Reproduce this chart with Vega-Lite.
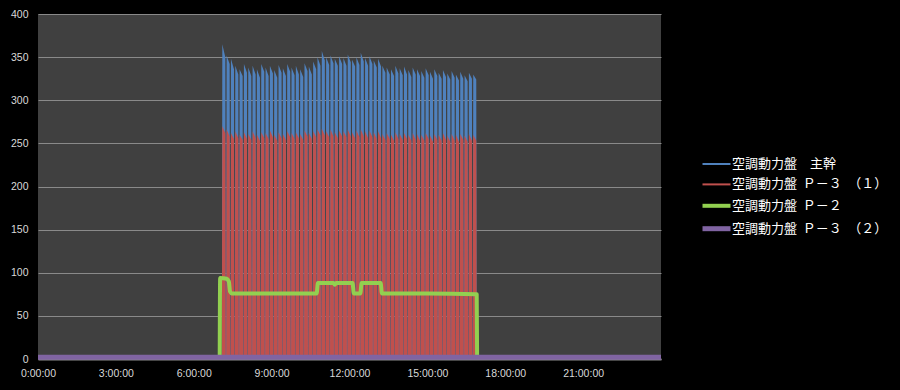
{
  "$schema": "https://vega.github.io/schema/vega-lite/v6.json",
  "width": 623,
  "height": 345,
  "autosize": {"type": "none"},
  "padding": {"left": 38, "top": 14, "right": 239, "bottom": 31},
  "background": "#000000",
  "config": {
    "view": {"fill": "#404040", "stroke": null},
    "font": "Liberation Sans",
    "axis": {"labelColor": "#d9d9d9", "labelFontSize": 10.5, "labelFont": "Liberation Sans", "ticks": false, "labelFlush": false, "title": null}
  },
  "datasets": {
    "ab": [
      {"m":425,"a":0,"b":0},{"m":426,"a":365,"b":270},{"m":433,"a":350,"b":262},{"m":434,"a":0,"b":0},
      {"m":435,"a":0,"b":0},{"m":436,"a":352,"b":266},{"m":443,"a":342,"b":258},{"m":444,"a":0,"b":0},
      {"m":445,"a":0,"b":0},{"m":446,"a":348,"b":262},{"m":453,"a":336,"b":255},{"m":454,"a":0,"b":0},
      {"m":455,"a":0,"b":0},{"m":456,"a":340,"b":264},{"m":463,"a":330,"b":256},{"m":464,"a":0,"b":0},
      {"m":465,"a":0,"b":0},{"m":466,"a":336,"b":260},{"m":473,"a":328,"b":254},{"m":474,"a":0,"b":0},
      {"m":475,"a":0,"b":0},{"m":476,"a":342,"b":263},{"m":483,"a":332,"b":255},{"m":484,"a":0,"b":0},
      {"m":485,"a":0,"b":0},{"m":486,"a":338,"b":261},{"m":493,"a":328,"b":254},{"m":494,"a":0,"b":0},
      {"m":495,"a":0,"b":0},{"m":496,"a":340,"b":264},{"m":503,"a":330,"b":256},{"m":504,"a":0,"b":0},
      {"m":505,"a":0,"b":0},{"m":506,"a":336,"b":260},{"m":513,"a":326,"b":253},{"m":514,"a":0,"b":0},
      {"m":515,"a":0,"b":0},{"m":516,"a":342,"b":263},{"m":523,"a":333,"b":256},{"m":524,"a":0,"b":0},
      {"m":525,"a":0,"b":0},{"m":526,"a":338,"b":262},{"m":533,"a":328,"b":255},{"m":534,"a":0,"b":0},
      {"m":535,"a":0,"b":0},{"m":536,"a":340,"b":265},{"m":543,"a":331,"b":257},{"m":544,"a":0,"b":0},
      {"m":545,"a":0,"b":0},{"m":546,"a":335,"b":260},{"m":553,"a":326,"b":253},{"m":554,"a":0,"b":0},
      {"m":555,"a":0,"b":0},{"m":556,"a":341,"b":263},{"m":563,"a":332,"b":256},{"m":564,"a":0,"b":0},
      {"m":565,"a":0,"b":0},{"m":566,"a":337,"b":261},{"m":573,"a":328,"b":254},{"m":574,"a":0,"b":0},
      {"m":575,"a":0,"b":0},{"m":576,"a":342,"b":264},{"m":583,"a":333,"b":257},{"m":584,"a":0,"b":0},
      {"m":585,"a":0,"b":0},{"m":586,"a":338,"b":262},{"m":593,"a":329,"b":255},{"m":594,"a":0,"b":0},
      {"m":595,"a":0,"b":0},{"m":596,"a":340,"b":263},{"m":603,"a":330,"b":256},{"m":604,"a":0,"b":0},
      {"m":605,"a":0,"b":0},{"m":606,"a":336,"b":261},{"m":613,"a":327,"b":254},{"m":614,"a":0,"b":0},
      {"m":615,"a":0,"b":0},{"m":616,"a":343,"b":265},{"m":623,"a":334,"b":258},{"m":624,"a":0,"b":0},
      {"m":625,"a":0,"b":0},{"m":626,"a":339,"b":262},{"m":633,"a":330,"b":255},{"m":634,"a":0,"b":0},
      {"m":635,"a":0,"b":0},{"m":636,"a":345,"b":264},{"m":643,"a":336,"b":257},{"m":644,"a":0,"b":0},
      {"m":645,"a":0,"b":0},{"m":646,"a":350,"b":266},{"m":653,"a":340,"b":259},{"m":654,"a":0,"b":0},
      {"m":655,"a":0,"b":0},{"m":656,"a":357,"b":267},{"m":663,"a":346,"b":259},{"m":664,"a":0,"b":0},
      {"m":665,"a":0,"b":0},{"m":666,"a":350,"b":264},{"m":673,"a":341,"b":257},{"m":674,"a":0,"b":0},
      {"m":675,"a":0,"b":0},{"m":676,"a":352,"b":266},{"m":683,"a":343,"b":258},{"m":684,"a":0,"b":0},
      {"m":685,"a":0,"b":0},{"m":686,"a":348,"b":263},{"m":693,"a":340,"b":256},{"m":694,"a":0,"b":0},
      {"m":695,"a":0,"b":0},{"m":696,"a":351,"b":265},{"m":703,"a":342,"b":258},{"m":704,"a":0,"b":0},
      {"m":705,"a":0,"b":0},{"m":706,"a":349,"b":264},{"m":713,"a":340,"b":257},{"m":714,"a":0,"b":0},
      {"m":715,"a":0,"b":0},{"m":716,"a":353,"b":266},{"m":723,"a":344,"b":258},{"m":724,"a":0,"b":0},
      {"m":725,"a":0,"b":0},{"m":726,"a":347,"b":263},{"m":733,"a":339,"b":256},{"m":734,"a":0,"b":0},
      {"m":735,"a":0,"b":0},{"m":736,"a":350,"b":265},{"m":743,"a":341,"b":257},{"m":744,"a":0,"b":0},
      {"m":745,"a":0,"b":0},{"m":746,"a":355,"b":266},{"m":753,"a":345,"b":258},{"m":754,"a":0,"b":0},
      {"m":755,"a":0,"b":0},{"m":756,"a":349,"b":264},{"m":763,"a":340,"b":256},{"m":764,"a":0,"b":0},
      {"m":765,"a":0,"b":0},{"m":766,"a":351,"b":265},{"m":773,"a":342,"b":257},{"m":774,"a":0,"b":0},
      {"m":775,"a":0,"b":0},{"m":776,"a":346,"b":263},{"m":783,"a":338,"b":255},{"m":784,"a":0,"b":0},
      {"m":785,"a":0,"b":0},{"m":786,"a":348,"b":264},{"m":793,"a":339,"b":256},{"m":794,"a":0,"b":0},
      {"m":795,"a":0,"b":0},{"m":796,"a":340,"b":261},{"m":803,"a":332,"b":254},{"m":804,"a":0,"b":0},
      {"m":805,"a":0,"b":0},{"m":806,"a":338,"b":262},{"m":813,"a":330,"b":255},{"m":814,"a":0,"b":0},
      {"m":815,"a":0,"b":0},{"m":816,"a":336,"b":260},{"m":823,"a":328,"b":253},{"m":824,"a":0,"b":0},
      {"m":825,"a":0,"b":0},{"m":826,"a":340,"b":263},{"m":833,"a":331,"b":255},{"m":834,"a":0,"b":0},
      {"m":835,"a":0,"b":0},{"m":836,"a":337,"b":261},{"m":843,"a":329,"b":254},{"m":844,"a":0,"b":0},
      {"m":845,"a":0,"b":0},{"m":846,"a":339,"b":262},{"m":853,"a":330,"b":255},{"m":854,"a":0,"b":0},
      {"m":855,"a":0,"b":0},{"m":856,"a":335,"b":260},{"m":863,"a":327,"b":253},{"m":864,"a":0,"b":0},
      {"m":865,"a":0,"b":0},{"m":866,"a":338,"b":262},{"m":873,"a":330,"b":254},{"m":874,"a":0,"b":0},
      {"m":875,"a":0,"b":0},{"m":876,"a":336,"b":261},{"m":883,"a":328,"b":253},{"m":884,"a":0,"b":0},
      {"m":885,"a":0,"b":0},{"m":886,"a":334,"b":260},{"m":893,"a":326,"b":253},{"m":894,"a":0,"b":0},
      {"m":895,"a":0,"b":0},{"m":896,"a":337,"b":262},{"m":903,"a":329,"b":255},{"m":904,"a":0,"b":0},
      {"m":905,"a":0,"b":0},{"m":906,"a":333,"b":259},{"m":913,"a":325,"b":252},{"m":914,"a":0,"b":0},
      {"m":915,"a":0,"b":0},{"m":916,"a":336,"b":261},{"m":923,"a":328,"b":254},{"m":924,"a":0,"b":0},
      {"m":925,"a":0,"b":0},{"m":926,"a":332,"b":260},{"m":933,"a":325,"b":253},{"m":934,"a":0,"b":0},
      {"m":935,"a":0,"b":0},{"m":936,"a":335,"b":262},{"m":943,"a":327,"b":254},{"m":944,"a":0,"b":0},
      {"m":945,"a":0,"b":0},{"m":946,"a":331,"b":259},{"m":953,"a":324,"b":252},{"m":954,"a":0,"b":0},
      {"m":955,"a":0,"b":0},{"m":956,"a":334,"b":261},{"m":963,"a":326,"b":253},{"m":964,"a":0,"b":0},
      {"m":965,"a":0,"b":0},{"m":966,"a":330,"b":260},{"m":973,"a":323,"b":252},{"m":974,"a":0,"b":0},
      {"m":975,"a":0,"b":0},{"m":976,"a":333,"b":261},{"m":983,"a":325,"b":254},{"m":984,"a":0,"b":0},
      {"m":985,"a":0,"b":0},{"m":986,"a":329,"b":259},{"m":993,"a":322,"b":252},{"m":994,"a":0,"b":0},
      {"m":995,"a":0,"b":0},{"m":996,"a":332,"b":261},{"m":1003,"a":325,"b":253},{"m":1004,"a":0,"b":0},
      {"m":1005,"a":0,"b":0},{"m":1006,"a":330,"b":260},{"m":1013,"a":324,"b":253},{"m":1014,"a":0,"b":0}
    ],
    "gp": [
      {"m":420,"s":"空調動力盤\u00a0\u00a0Ｐ－２","v":0},
      {"m":421,"s":"空調動力盤\u00a0\u00a0Ｐ－２","v":94},
      {"m":436,"s":"空調動力盤\u00a0\u00a0Ｐ－２","v":93},
      {"m":441,"s":"空調動力盤\u00a0\u00a0Ｐ－２","v":90},
      {"m":444,"s":"空調動力盤\u00a0\u00a0Ｐ－２","v":78},
      {"m":448,"s":"空調動力盤\u00a0\u00a0Ｐ－２","v":76},
      {"m":644,"s":"空調動力盤\u00a0\u00a0Ｐ－２","v":76},
      {"m":647,"s":"空調動力盤\u00a0\u00a0Ｐ－２","v":88},
      {"m":683,"s":"空調動力盤\u00a0\u00a0Ｐ－２","v":88},
      {"m":686,"s":"空調動力盤\u00a0\u00a0Ｐ－２","v":86},
      {"m":689,"s":"空調動力盤\u00a0\u00a0Ｐ－２","v":88},
      {"m":727,"s":"空調動力盤\u00a0\u00a0Ｐ－２","v":88},
      {"m":730,"s":"空調動力盤\u00a0\u00a0Ｐ－２","v":76},
      {"m":745,"s":"空調動力盤\u00a0\u00a0Ｐ－２","v":76},
      {"m":748,"s":"空調動力盤\u00a0\u00a0Ｐ－２","v":88},
      {"m":792,"s":"空調動力盤\u00a0\u00a0Ｐ－２","v":88},
      {"m":795,"s":"空調動力盤\u00a0\u00a0Ｐ－２","v":76},
      {"m":900,"s":"空調動力盤\u00a0\u00a0Ｐ－２","v":76},
      {"m":1014,"s":"空調動力盤\u00a0\u00a0Ｐ－２","v":75},
      {"m":1015,"s":"空調動力盤\u00a0\u00a0Ｐ－２","v":0},
      {"m":0,"s":"空調動力盤\u00a0\u00a0Ｐ－３\u3000（２）","v":2},
      {"m":1440,"s":"空調動力盤\u00a0\u00a0Ｐ－３\u3000（２）","v":2}
    ]
  },
  "layer": [
    {
      "data": {"name": "ab"},
      "mark": {"type": "area", "color": "#4F81BD", "interpolate": "linear"},
      "encoding": {
        "x": {"field": "m", "type": "quantitative", "scale": {"domain": [0, 1440], "nice": false, "zero": false},
              "axis": {"values": [0, 180, 360, 540, 720, 900, 1080, 1260], "labelExpr": "floor(datum.value / 60) + ':00:00'", "grid": false, "domainColor": "#8c8c8c", "domainWidth": 2, "labelPadding": 9, "title": null}},
        "y": {"field": "a", "type": "quantitative", "scale": {"domain": [0, 400], "nice": false},
              "axis": {"values": [0, 50, 100, 150, 200, 250, 300, 350, 400], "grid": true, "gridColor": "#8a8a8a", "gridWidth": 1, "domain": false, "labelPadding": 10, "title": null}}
      }
    },
    {
      "data": {"name": "ab"},
      "mark": {"type": "area", "color": "#C0504D", "interpolate": "linear"},
      "encoding": {
        "x": {"field": "m", "type": "quantitative"},
        "y": {"field": "b", "type": "quantitative", "axis": {"title": null}}
      }
    },
    {
      "data": {"name": "gp"},
      "mark": {"type": "line", "interpolate": "monotone", "strokeJoin": "round", "strokeCap": "butt"},
      "encoding": {
        "x": {"field": "m", "type": "quantitative"},
        "y": {"field": "v", "type": "quantitative", "axis": {"title": null}},
        "color": {"field": "s", "type": "nominal",
          "scale": {"domain": ["\u00a0\u00a0空調動力盤\u3000主幹", "空調動力盤\u00a0\u00a0Ｐ－３\u3000（１）", "空調動力盤\u00a0\u00a0Ｐ－２", "空調動力盤\u00a0\u00a0Ｐ－３\u3000（２）"],
                    "range": ["#4F81BD", "#C0504D", "#92D050", "#8064A2"]},
          "legend": {"orient": "none", "legendX": 666, "legendY": 139, "title": null, "symbolType": "M-1.4,0H1.4", "symbolSize": 400, "labelColor": "#ffffff", "labelFont": "Noto Sans CJK JP", "labelFontSize": 13, "labelOffset": 3, "symbolOffset": 0, "padding": 0, "rowPadding": 2.4}},
        "strokeWidth": {"field": "s", "type": "nominal",
          "scale": {"type": "ordinal", "domain": ["\u00a0\u00a0空調動力盤\u3000主幹", "空調動力盤\u00a0\u00a0Ｐ－３\u3000（１）", "空調動力盤\u00a0\u00a0Ｐ－２", "空調動力盤\u00a0\u00a0Ｐ－３\u3000（２）"],
                    "range": [2, 2, 4, 5]},
          "legend": {"orient": "none", "legendX": 666, "legendY": 139, "title": null, "symbolType": "M-1.4,0H1.4", "symbolSize": 400, "labelColor": "#ffffff", "labelFont": "Noto Sans CJK JP", "labelFontSize": 13, "labelOffset": 3, "symbolOffset": 0, "padding": 0, "rowPadding": 2.4}}
      }
    }
  ]
}
